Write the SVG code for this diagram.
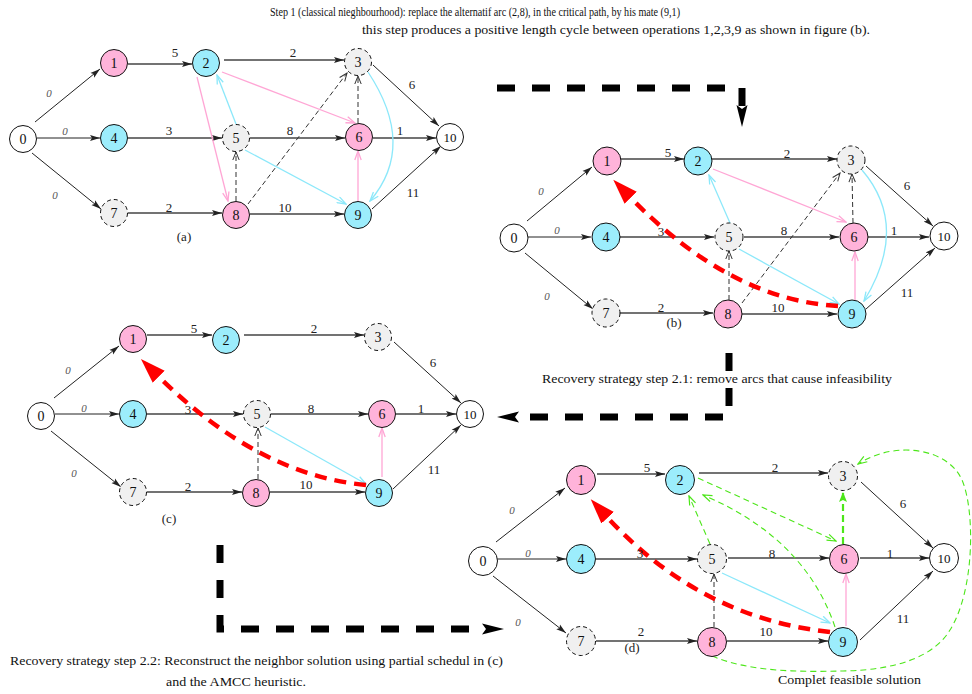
<svg xmlns="http://www.w3.org/2000/svg" width="972" height="694" viewBox="0 0 972 694">
<style>
  .nd circle { stroke: #111; stroke-width: 1; }
  .w { fill: #fff; }
  .pk { fill: #ffb3da; }
  .cy { fill: #9cedfc; }
  .gy { fill: #f0f0f0; stroke-dasharray: 4 3; }
  .nl { font: 14px "Liberation Serif", serif; text-anchor: middle; fill: #111; }
  .nl10 { font: 13px "Liberation Serif", serif; text-anchor: middle; fill: #111; }
  .el { font: 13px "Liberation Serif", serif; text-anchor: middle; fill: #222; }
  .z { font: italic 11px "Liberation Serif", serif; text-anchor: middle; fill: #555; }
  .cap { font: 13px "Liberation Serif", serif; fill: #111; }
  .sub { font: 13px "Liberation Serif", serif; text-anchor: middle; fill: #222; }
  .e { fill: none; stroke: #222; stroke-width: 1; marker-end: url(#mb); }
  .eh { fill: none; stroke: #444; stroke-width: 1.5; marker-end: url(#mb); }
  .dk { fill: none; stroke: #333; stroke-width: 1; stroke-dasharray: 5 3; marker-end: url(#mk); }
  .pl { fill: none; stroke: #ffa6d5; stroke-width: 1.3; marker-end: url(#mp); }
  .cl { fill: none; stroke: #8ce8fa; stroke-width: 1.3; marker-end: url(#mc); }
  .gl { fill: none; stroke: #4de61a; stroke-width: 1.1; stroke-dasharray: 6 4; marker-end: url(#mg); }
  .gl2 { fill: none; stroke: #4de61a; stroke-width: 2.2; stroke-dasharray: 7 4; marker-end: url(#mg2); }
  .rd { fill: none; stroke: #ff0000; stroke-width: 4.5; stroke-dasharray: 12 8; marker-end: url(#mr); }
  .big { fill: none; stroke: #000; stroke-width: 7; stroke-dasharray: 18 17; marker-end: url(#mB); }
</style>
<defs>
  <marker id="mb" markerWidth="10" markerHeight="8" refX="10" refY="4" orient="auto" markerUnits="userSpaceOnUse">
    <path d="M0,1 L10,4 L0,7 L2,4 z" fill="#222"/>
  </marker>
  <marker id="mk" markerWidth="10" markerHeight="8" refX="9" refY="4" orient="auto" markerUnits="userSpaceOnUse">
    <path d="M1,0.8 L9,4 L1,7.2" fill="none" stroke="#333" stroke-width="1"/>
  </marker>
  <marker id="mp" markerWidth="11" markerHeight="8" refX="10" refY="4" orient="auto" markerUnits="userSpaceOnUse">
    <path d="M1,0.8 L10,4 L1,7.2" fill="none" stroke="#ffa6d5" stroke-width="1.3"/>
  </marker>
  <marker id="mc" markerWidth="11" markerHeight="8" refX="10" refY="4" orient="auto" markerUnits="userSpaceOnUse">
    <path d="M1,0.8 L10,4 L1,7.2" fill="none" stroke="#8ce8fa" stroke-width="1.3"/>
  </marker>
  <marker id="mg" markerWidth="11" markerHeight="8" refX="10" refY="4" orient="auto" markerUnits="userSpaceOnUse">
    <path d="M1,0.8 L10,4 L1,7.2" fill="none" stroke="#4de61a" stroke-width="1.2"/>
  </marker>
  <marker id="mg2" markerWidth="12" markerHeight="10" refX="11" refY="5" orient="auto" markerUnits="userSpaceOnUse">
    <path d="M1,1 L11,5 L1,9 L3,5 z" fill="#4de61a"/>
  </marker>
  <marker id="mr" markerWidth="26" markerHeight="18" refX="1" refY="9" orient="auto" markerUnits="userSpaceOnUse">
    <path d="M0,0.5 L25,9 L0,17.5 z" fill="#ff0000"/>
  </marker>
  <marker id="mB" markerWidth="24" markerHeight="14" refX="1" refY="7" orient="auto" markerUnits="userSpaceOnUse">
    <path d="M0,1.5 L22,7 L0,12.5 L4,7 z" fill="#000"/>
  </marker>
</defs>

<!-- captions -->
<g id="captions">
  <text class="cap" x="270" y="16" textLength="410" lengthAdjust="spacingAndGlyphs">Step 1 (classical nieghbourhood): replace the alternatif arc (2,8), in the critical path, by his mate (9,1)</text>
  <text class="cap" x="362" y="34" textLength="508" lengthAdjust="spacingAndGlyphs">this step produces a positive length cycle between operations 1,2,3,9 as shown in figure (b).</text>
  <text class="cap" x="542" y="383" textLength="350" lengthAdjust="spacingAndGlyphs">Recovery strategy step 2.1: remove arcs that cause infeasibility</text>
  <text class="cap" x="10" y="665" textLength="493" lengthAdjust="spacingAndGlyphs">Recovery strategy step 2.2: Reconstruct the neighbor solution using partial schedul in (c)</text>
  <text class="cap" x="166" y="686" textLength="140" lengthAdjust="spacingAndGlyphs">and the AMCC heuristic.</text>
  <text class="cap" x="778" y="684" textLength="143" lengthAdjust="spacingAndGlyphs">Complet feasible solution</text>
  <text class="sub" x="184" y="241">(a)</text>
  <text class="sub" x="674" y="327">(b)</text>
  <text class="sub" x="169" y="523">(c)</text>
  <text class="sub" x="632" y="652">(d)</text>
</g>

<!-- connectors -->
<g id="connectors">
  <!-- step arrows between the panels -->
  <path class="big" d="M497,88 H742 V106"/>
  <path class="big" d="M729,353 V417 H518"/>
  <path class="big" d="M220,545 V629 H483"/>

  <!-- graph (a) -->
  <path class="e" d="M35,122 L100,69"/>
  <path class="e" d="M37,138 L100,138"/>
  <path class="e" d="M32,153 L101,209"/>
  <path class="eh" d="M128,64 L192,64"/>
  <path class="eh" d="M224,60 L344,60"/>
  <path class="e" d="M373,65 L439,126"/>
  <path class="eh" d="M128,138 L222,138"/>
  <path class="eh" d="M250,138 L345,138"/>
  <path class="eh" d="M373,138 L436,138"/>
  <path class="eh" d="M128,213 L222,213"/>
  <path class="eh" d="M250,214 L344,214"/>
  <path class="e" d="M372,209 L441,146"/>
  <path class="dk" d="M236,201 L236,152"/>
  <path class="dk" d="M248,204 L347,73"/>
  <path class="dk" d="M358,123 L358,76"/>
  <path class="pl" d="M222,72 L355,123"/>
  <path class="pl" d="M197,77 L228,201"/>
  <path class="pl" d="M358,201 L358,151"/>
  <path class="cl" d="M236,124 L217,75"/>
  <path class="cl" d="M245,150 L346,204"/>
  <path class="cl" d="M368,72 Q417,146 370,201"/>

  <!-- graph (b) -->
  <path class="e" d="M527,221 L592,167"/>
  <path class="e" d="M528,237 L591,237"/>
  <path class="e" d="M525,253 L593,309"/>
  <path class="eh" d="M621,159 L684,159"/>
  <path class="eh" d="M712,159 L837,159"/>
  <path class="e" d="M866,166 L933,226"/>
  <path class="eh" d="M620,237 L714,237"/>
  <path class="eh" d="M744,237 L839,237"/>
  <path class="eh" d="M868,237 L929,237"/>
  <path class="eh" d="M620,313 L713,313"/>
  <path class="eh" d="M742,314 L837,314"/>
  <path class="e" d="M866,309 L935,248"/>
  <path class="dk" d="M729,300 L729,251"/>
  <path class="dk" d="M742,303 L840,173"/>
  <path class="dk" d="M853,223 L852,174"/>
  <path class="pl" d="M713,169 L846,222"/>
  <path class="pl" d="M855,300 L855,252"/>
  <path class="cl" d="M730,223 L709,175"/>
  <path class="cl" d="M739,249 L839,304"/>
  <path class="cl" d="M862,170 Q910,226 864,301"/>
  <path class="rd" d="M838,306 Q730,300 630,197"/>

  <!-- graph (c) -->
  <path class="e" d="M54,398 L119,346"/>
  <path class="e" d="M55,414 L119,414"/>
  <path class="e" d="M51,431 L121,487"/>
  <path class="eh" d="M147,335 L212,335"/>
  <path class="eh" d="M244,335 L364,335"/>
  <path class="e" d="M394,342 L461,403"/>
  <path class="eh" d="M147,414 L243,414"/>
  <path class="eh" d="M271,414 L368,414"/>
  <path class="eh" d="M396,414 L456,414"/>
  <path class="eh" d="M147,492 L242,492"/>
  <path class="eh" d="M270,492 L365,492"/>
  <path class="e" d="M393,489 L461,425"/>
  <path class="dk" d="M258,479 L258,428"/>
  <path class="pl" d="M382,477 L382,428"/>
  <path class="cl" d="M265,427 L366,484"/>
  <path class="rd" d="M366,485 Q258,475 158,376"/>

  <!-- graph (d) -->
  <path class="e" d="M496,542 L565,488"/>
  <path class="e" d="M497,559 L566,559"/>
  <path class="e" d="M493,576 L566,633"/>
  <path class="eh" d="M597,474 L665,474"/>
  <path class="eh" d="M699,473 L828,473"/>
  <path class="e" d="M861,482 L933,548"/>
  <path class="eh" d="M596,559 L697,559"/>
  <path class="eh" d="M728,558 L829,558"/>
  <path class="eh" d="M860,558 L929,558"/>
  <path class="eh" d="M596,641 L697,641"/>
  <path class="eh" d="M727,641 L828,641"/>
  <path class="e" d="M860,640 L933,571"/>
  <path class="dk" d="M714,627 L714,574"/>
  <path class="cl" d="M722,573 L830,623"/>
  <path class="pl" d="M846,626 L846,574"/>
  <path class="gl" d="M698,478 L836,541"/>
  <path class="gl" d="M710,544 L689,496"/>
  <path class="gl" d="M835,627 Q805,538 703,495"/>
  <path class="gl2" d="M843,544 L843,492"/>
  <path class="gl" d="M712,656 C750,672 800,672 843,671 C900,670 935,655 950,630 C975,590 975,510 962,480 C948,448 895,440 858,464"/>
  <path class="rd" d="M830,632 Q700,618 607,517"/>
</g>

<!-- edge weights -->
<g id="weights">
  <text class="z" x="49" y="97">0</text>
  <text class="z" x="65" y="135">0</text>
  <text class="z" x="55" y="199">0</text>
  <text class="el" x="175" y="57">5</text>
  <text class="el" x="293" y="57">2</text>
  <text class="el" x="412" y="89">6</text>
  <text class="el" x="169" y="135">3</text>
  <text class="el" x="290" y="135">8</text>
  <text class="el" x="400" y="135">1</text>
  <text class="el" x="169" y="212">2</text>
  <text class="el" x="285" y="212">10</text>
  <text class="el" x="413" y="197">11</text>

  <text class="z" x="541" y="195">0</text>
  <text class="z" x="557" y="234">0</text>
  <text class="z" x="547" y="300">0</text>
  <text class="el" x="668" y="157">5</text>
  <text class="el" x="787" y="158">2</text>
  <text class="el" x="907" y="190">6</text>
  <text class="el" x="661" y="236">3</text>
  <text class="el" x="784" y="235">8</text>
  <text class="el" x="894" y="235">1</text>
  <text class="el" x="661" y="312">2</text>
  <text class="el" x="778" y="312">10</text>
  <text class="el" x="907" y="297">11</text>

  <text class="z" x="68" y="374">0</text>
  <text class="z" x="84" y="412">0</text>
  <text class="z" x="74" y="477">0</text>
  <text class="el" x="194" y="333">5</text>
  <text class="el" x="314" y="333">2</text>
  <text class="el" x="433" y="367">6</text>
  <text class="el" x="188" y="414">3</text>
  <text class="el" x="311" y="413">8</text>
  <text class="el" x="421" y="413">1</text>
  <text class="el" x="188" y="491">2</text>
  <text class="el" x="306" y="489">10</text>
  <text class="el" x="434" y="474">11</text>

  <text class="z" x="512" y="514">0</text>
  <text class="z" x="528" y="557">0</text>
  <text class="z" x="518" y="626">0</text>
  <text class="el" x="647" y="472">5</text>
  <text class="el" x="775" y="472">2</text>
  <text class="el" x="903" y="508">6</text>
  <text class="el" x="640" y="558">3</text>
  <text class="el" x="772" y="558">8</text>
  <text class="el" x="890" y="558">1</text>
  <text class="el" x="641" y="636">2</text>
  <text class="el" x="766" y="636">10</text>
  <text class="el" x="903" y="623">11</text>
</g>

<!-- graph (a) nodes -->
<g id="a-n0" class="nd"><circle class="w" cx="23" cy="139" r="13.5"/><text class="nl" x="23" y="144">0</text></g>
<g id="a-n1" class="nd"><circle class="pk" cx="114" cy="63" r="13.5"/><text class="nl" x="114" y="68">1</text></g>
<g id="a-n2" class="nd"><circle class="cy" cx="206" cy="63" r="13.5"/><text class="nl" x="206" y="68">2</text></g>
<g id="a-n3" class="nd"><circle class="gy" cx="358" cy="62" r="13.5"/><text class="nl" x="358" y="67">3</text></g>
<g id="a-n4" class="nd"><circle class="cy" cx="114" cy="138" r="13.5"/><text class="nl" x="114" y="143">4</text></g>
<g id="a-n5" class="nd"><circle class="gy" cx="236" cy="138" r="13.5"/><text class="nl" x="236" y="143">5</text></g>
<g id="a-n6" class="nd"><circle class="pk" cx="359" cy="137" r="13.5"/><text class="nl" x="359" y="142">6</text></g>
<g id="a-n7" class="nd"><circle class="gy" cx="114" cy="213" r="13.5"/><text class="nl" x="114" y="218">7</text></g>
<g id="a-n8" class="nd"><circle class="pk" cx="236" cy="215" r="13.5"/><text class="nl" x="236" y="220">8</text></g>
<g id="a-n9" class="nd"><circle class="cy" cx="358" cy="215" r="13.5"/><text class="nl" x="358" y="220">9</text></g>
<g id="a-n10" class="nd"><circle class="w" cx="450" cy="137" r="13.5"/><text class="nl10" x="450" y="142">10</text></g>

<!-- graph (b) nodes -->
<g id="b-n0" class="nd"><circle class="w" cx="514" cy="238" r="14"/><text class="nl" x="514" y="243">0</text></g>
<g id="b-n1" class="nd"><circle class="pk" cx="607" cy="161" r="14"/><text class="nl" x="607" y="166">1</text></g>
<g id="b-n2" class="nd"><circle class="cy" cx="698" cy="161" r="14"/><text class="nl" x="698" y="166">2</text></g>
<g id="b-n3" class="nd"><circle class="gy" cx="851" cy="160" r="14"/><text class="nl" x="851" y="165">3</text></g>
<g id="b-n4" class="nd"><circle class="cy" cx="606" cy="237" r="14"/><text class="nl" x="606" y="242">4</text></g>
<g id="b-n5" class="nd"><circle class="gy" cx="729" cy="237" r="14"/><text class="nl" x="729" y="242">5</text></g>
<g id="b-n6" class="nd"><circle class="pk" cx="854" cy="237" r="14"/><text class="nl" x="854" y="242">6</text></g>
<g id="b-n7" class="nd"><circle class="gy" cx="606" cy="313" r="14"/><text class="nl" x="606" y="318">7</text></g>
<g id="b-n8" class="nd"><circle class="pk" cx="728" cy="314" r="14"/><text class="nl" x="728" y="319">8</text></g>
<g id="b-n9" class="nd"><circle class="cy" cx="852" cy="314" r="14"/><text class="nl" x="852" y="319">9</text></g>
<g id="b-n10" class="nd"><circle class="w" cx="944" cy="236" r="14"/><text class="nl10" x="944" y="241">10</text></g>

<!-- graph (c) nodes -->
<g id="c-n0" class="nd"><circle class="w" cx="41" cy="416" r="13.5"/><text class="nl" x="41" y="421">0</text></g>
<g id="c-n1" class="nd"><circle class="pk" cx="133" cy="339" r="13.5"/><text class="nl" x="133" y="344">1</text></g>
<g id="c-n2" class="nd"><circle class="cy" cx="226" cy="340" r="13.5"/><text class="nl" x="226" y="345">2</text></g>
<g id="c-n3" class="nd"><circle class="gy" cx="378" cy="337" r="13.5"/><text class="nl" x="378" y="342">3</text></g>
<g id="c-n4" class="nd"><circle class="cy" cx="133" cy="414" r="13.5"/><text class="nl" x="133" y="419">4</text></g>
<g id="c-n5" class="nd"><circle class="gy" cx="257" cy="414" r="13.5"/><text class="nl" x="257" y="419">5</text></g>
<g id="c-n6" class="nd"><circle class="pk" cx="382" cy="414" r="13.5"/><text class="nl" x="382" y="419">6</text></g>
<g id="c-n7" class="nd"><circle class="gy" cx="133" cy="492" r="13.5"/><text class="nl" x="133" y="497">7</text></g>
<g id="c-n8" class="nd"><circle class="pk" cx="256" cy="493" r="13.5"/><text class="nl" x="256" y="498">8</text></g>
<g id="c-n9" class="nd"><circle class="cy" cx="379" cy="493" r="13.5"/><text class="nl" x="379" y="498">9</text></g>
<g id="c-n10" class="nd"><circle class="w" cx="470" cy="414" r="13.5"/><text class="nl10" x="470" y="419">10</text></g>

<!-- graph (d) nodes -->
<g id="d-n0" class="nd"><circle class="w" cx="483" cy="561" r="14.5"/><text class="nl" x="483" y="566">0</text></g>
<g id="d-n1" class="nd"><circle class="pk" cx="581" cy="480" r="14.5"/><text class="nl" x="581" y="485">1</text></g>
<g id="d-n2" class="nd"><circle class="cy" cx="680" cy="480" r="14.5"/><text class="nl" x="680" y="485">2</text></g>
<g id="d-n3" class="nd"><circle class="gy" cx="843" cy="476" r="14.5"/><text class="nl" x="843" y="481">3</text></g>
<g id="d-n4" class="nd"><circle class="cy" cx="581" cy="559" r="14.5"/><text class="nl" x="581" y="564">4</text></g>
<g id="d-n5" class="nd"><circle class="gy" cx="712" cy="559" r="14.5"/><text class="nl" x="712" y="564">5</text></g>
<g id="d-n6" class="nd"><circle class="pk" cx="844" cy="559" r="14.5"/><text class="nl" x="844" y="564">6</text></g>
<g id="d-n7" class="nd"><circle class="gy" cx="581" cy="641" r="14.5"/><text class="nl" x="581" y="646">7</text></g>
<g id="d-n8" class="nd"><circle class="pk" cx="712" cy="642" r="14.5"/><text class="nl" x="712" y="647">8</text></g>
<g id="d-n9" class="nd"><circle class="cy" cx="843" cy="642" r="14.5"/><text class="nl" x="843" y="647">9</text></g>
<g id="d-n10" class="nd"><circle class="w" cx="944" cy="558" r="14.5"/><text class="nl10" x="944" y="563">10</text></g>
</svg>
